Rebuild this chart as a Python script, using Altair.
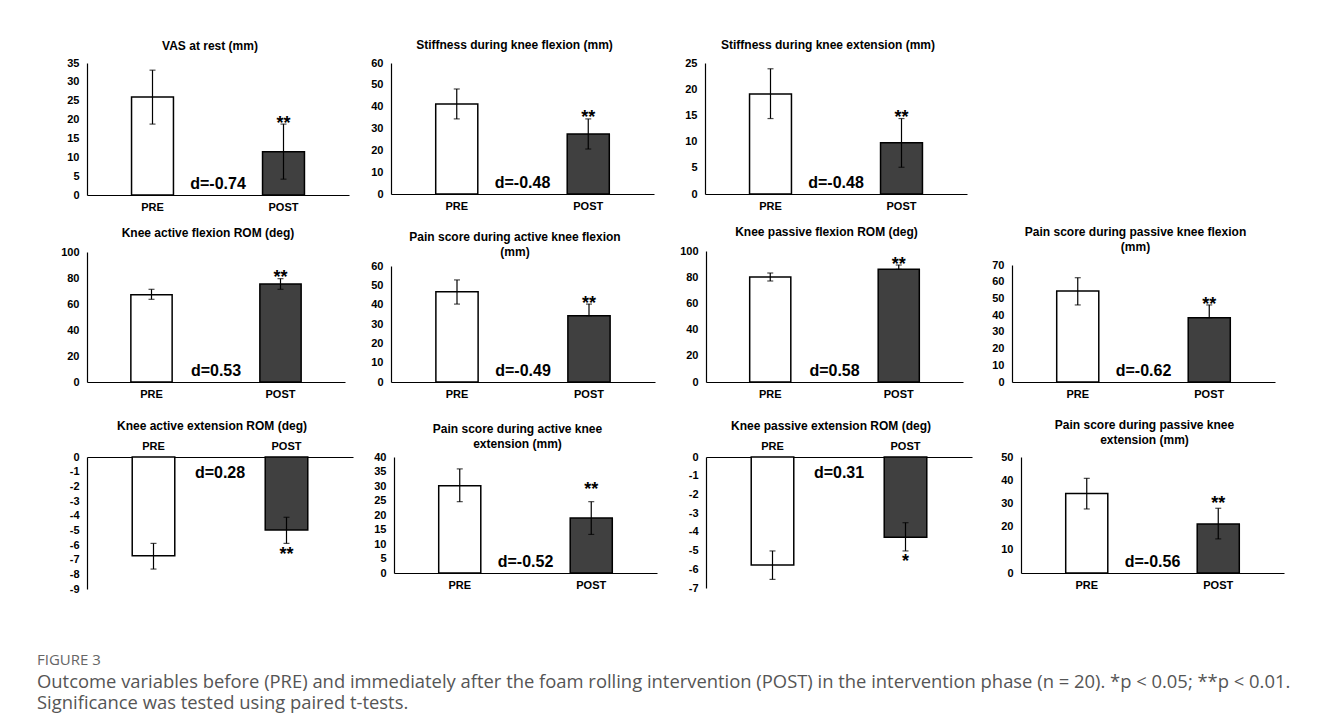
import altair as alt
import pandas as pd

# ---------------- data ----------------
titles = [
    ["VAS at rest (mm)"],
    ["Stiffness during knee flexion (mm)"],
    ["Stiffness during knee extension (mm)"],
    ["Knee active flexion ROM (deg)"],
    ["Pain score during active knee flexion", "(mm)"],
    ["Knee passive flexion ROM (deg)"],
    ["Pain score during passive knee flexion", "(mm)"],
    ["Knee active extension ROM (deg)"],
    ["Pain score during active knee", "extension (mm)"],
    ["Knee passive extension ROM (deg)"],
    ["Pain score during passive knee", "extension (mm)"],
]
categories = ["PRE", "POST"]
pre_mean = [26.0, 41.2, 19.1, 67.2, 46.7, 80.2, 54.4, -6.73, 30.1, -5.77, 34.3]
pre_lo = [18.8, 34.4, 14.4, 63.6, 40.3, 77.1, 46.1, -7.64, 24.6, -6.54, 27.6]
pre_hi = [33.1, 48.1, 23.9, 71.3, 52.8, 83.2, 62.4, -5.89, 35.9, -5.02, 40.8]
post_mean = [11.5, 27.5, 9.8, 75.4, 34.3, 86.0, 38.5, -4.98, 19.0, -4.29, 21.1]
post_lo = [4.2, 20.6, 5.1, 71.3, 34.3, 86.0, 38.5, -5.89, 13.3, -5.02, 14.7]
post_hi = [18.8, 34.4, 14.4, 79.5, 40.3, 89.3, 46.1, -4.11, 24.6, -3.51, 27.9]
stars = ["**", "**", "**", "**", "**", "**", "**", "**", "**", "*", "**"]
star_y = [20.2, 37.1, 15.5, 83.8, 42.9, 93.0, 49.0, -6.34, 30.3, -5.34, 31.9]
d_values = ["-0.74", "-0.48", "-0.48", "0.53", "-0.49", "0.58", "-0.62", "0.28", "-0.52", "0.31", "-0.56"]
y_min = [0, 0, 0, 0, 0, 0, 0, -9, 0, -7, 0]
y_max = [35, 60, 25, 100, 60, 100, 70, 0, 40, 0, 50]
y_step = [5, 10, 5, 20, 10, 20, 10, 1, 5, 1, 10]

caption_head = "FIGURE 3"
caption_lines = [
    "Outcome variables before (PRE) and immediately after the foam rolling intervention (POST) in the intervention phase (n = 20). *p < 0.05; **p < 0.01.",
    "Significance was tested using paired t-tests.",
]

# ---------------- layout (pixels) ----------------
FONT = "Liberation Sans"
ext = [73, 42, 51, 79, 46, 51, 49, 70, 41, 49, 49]
widths = [262, 263, 262, 258, 264, 257, 263, 266, 263, 266, 263]
plot_h = [132, 131, 131, 130, 116, 131, 117, 132, 116, 131, 116]   # height of the drawn axis
range_top = [0, 0, 0, 1, 15, 0, 14, 0, 0, 0, 0]                    # empty space above the axis
t_offset = [4, 5, 5, 6, -8, 6, -3, 7, 0, 7, 4]


def panel(i):
    neg = y_max[i] == 0
    df = pd.DataFrame({
        "cat": categories,
        "mean": [pre_mean[i], post_mean[i]],
        "lo": [pre_lo[i], post_lo[i]],
        "hi": [pre_hi[i], post_hi[i]],
    })
    star_df = pd.DataFrame({"cat": [categories[1]], "sy": [star_y[i]], "s": [stars[i]]})
    d_df = pd.DataFrame({"cat": [categories[1]], "zero": [0], "d": ["d=" + d_values[i]]})
    ticks = list(range(y_min[i], y_max[i] + 1, y_step[i]))
    view_h = plot_h[i] + range_top[i]
    yscale = alt.Scale(domain=[y_min[i], y_max[i]], nice=False, zero=False,
                       range=[view_h, range_top[i]])

    xaxis = alt.Axis(
        orient="top" if neg else "bottom", title=None, labelAngle=0,
        ticks=False, domainColor="black", domainWidth=1.2,
        labelFont=FONT, labelFontSize=11, labelFontWeight="bold",
        labelColor="black", labelPadding=6,
    )
    yaxis = alt.Axis(
        values=ticks, grid=False, ticks=False, title=None,
        labelFont=FONT, labelFontSize=11, labelFontWeight="bold",
        labelColor="black", labelPadding=8, labelOverlap=False,
        labelExpr="'' + datum.value",
        domainColor="black", domainWidth=1.2,
        minExtent=ext[i], maxExtent=ext[i],
    )
    xscale = alt.Scale(paddingInner=0, paddingOuter=0)

    def X(**kw):
        return alt.X("cat:N", sort=categories, scale=xscale, axis=xaxis, **kw)

    def Y(field):
        return alt.Y(field, type="quantitative", scale=yscale, axis=yaxis)

    bars = alt.Chart(df).mark_bar(
        width=alt.RelativeBandSize(0.32), stroke="black", strokeWidth=1.5
    ).encode(
        x=X(), y=Y("mean"),
        fill=alt.Fill("cat:N", scale=alt.Scale(domain=categories, range=["white", "#404040"]), legend=None),
    )
    rule = alt.Chart(df).mark_rule(color="black", strokeWidth=1.2).encode(
        x=X(), y=Y("lo"), y2="hi:Q"
    )
    cap_lo = alt.Chart(df).mark_tick(color="black", size=6, thickness=1.2).encode(x=X(), y=Y("lo"))
    cap_hi = alt.Chart(df).mark_tick(color="black", size=6, thickness=1.2).encode(x=X(), y=Y("hi"))
    star_txt = alt.Chart(star_df).mark_text(
        font=FONT, fontSize=18, fontWeight="bold", color="black", baseline="middle", dy=5
    ).encode(x=X(), y=Y("sy"), text="s:N")
    d_txt = alt.Chart(d_df).mark_text(
        font=FONT, fontSize=16, fontWeight="bold", color="black", baseline="middle",
        dy=16 if neg else -11,
    ).encode(x=X(bandPosition=0), y=Y("zero"), text="d:N")
    return alt.layer(bars, rule, cap_lo, cap_hi, star_txt, d_txt).properties(
        width=widths[i], height=view_h,
        title=alt.TitleParams(
            titles[i], font=FONT, fontSize=12, fontWeight="bold", color="black",
            anchor="middle", frame="group", dx=-8, offset=t_offset[i], lineHeight=15,
        ),
    )


row1 = alt.hconcat(*[panel(i) for i in [0, 1, 2]], spacing=0)
row2 = alt.hconcat(*[panel(i) for i in [3, 4, 5, 6]], spacing=0)
row3 = alt.hconcat(*[panel(i) for i in [7, 8, 9, 10]], spacing=0)

top = alt.vconcat(row1, row2, spacing=14)
chart = alt.vconcat(top, row3, spacing=20).properties(
    padding={"left": 0, "top": 31, "right": 5, "bottom": 0},
    title=alt.TitleParams(
        caption_head, subtitle=caption_lines, orient="bottom", anchor="start",
        frame="bounds", dx=29, offset=59,
        font="Open Sans", fontSize=15, fontWeight="normal", color="#666666",
        subtitleFont="Open Sans", subtitleFontSize=18.4, subtitleColor="#555555",
        subtitleLineHeight=21, subtitlePadding=5,
    ),
).configure_view(stroke=None).configure_concat(spacing=0)

chart.save("out.html", embed_options={"renderer": "svg", "actions": False})
